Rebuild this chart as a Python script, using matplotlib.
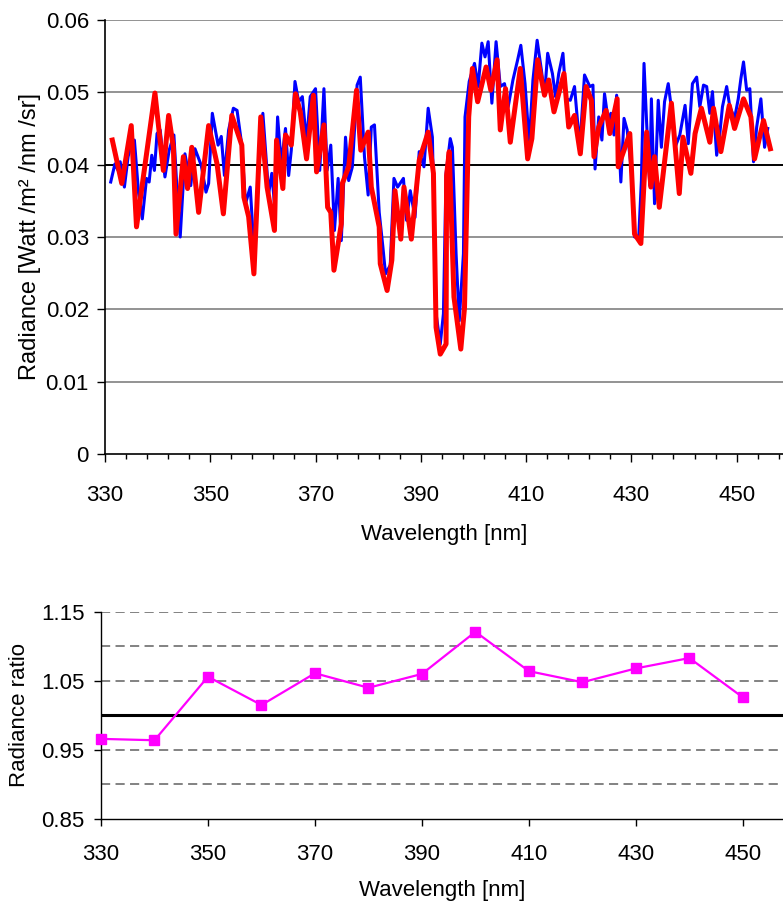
import numpy as np
import matplotlib
matplotlib.use('Agg')
import matplotlib.pyplot as plt
from matplotlib.ticker import FixedLocator

plt.rcParams['font.family'] = ['Liberation Sans', 'DejaVu Sans']

# High resolution spectrum (blue)
blue_wl = [331.1, 331.9, 332.5, 332.9, 333.7, 334.4, 335.0, 335.6, 336.4, 337.1,
           337.9, 338.4, 338.9, 339.4, 339.9, 340.5, 341.4, 342.2, 343.1, 343.7,
           344.3, 345.2, 346.3, 347.1, 348.3, 349.2, 349.7, 350.4, 351.5, 352.1,
           352.7, 353.5, 354.4, 355.1, 356.0, 356.7, 357.6, 358.4, 359.2, 360.0,
           361.1, 361.7, 362.2, 362.8, 363.5, 364.3, 364.9, 365.4, 366.1, 366.8,
           367.5, 368.3, 369.0, 370.0, 370.8, 371.6, 372.2, 372.9, 373.6, 374.3,
           374.9, 375.7, 376.3, 377.0, 377.9, 378.5, 379.3, 380.0, 380.6, 381.2,
           382.1, 382.8, 383.3, 384.2, 384.9, 385.6, 386.7, 387.3, 388.0, 388.9,
           389.7, 390.6, 391.4, 392.2, 392.9, 393.7, 394.3, 394.8, 395.6, 396.0,
           396.7, 397.3, 398.1, 398.4, 399.2, 400.2, 400.9, 401.6, 402.2, 402.8,
           403.5, 404.3, 405.1, 405.9, 406.6, 407.5, 408.4, 409.0, 409.8, 410.6,
           411.3, 412.1, 412.9, 413.5, 414.1, 415.0, 415.6, 416.2, 417.0, 417.6,
           418.4, 419.2, 420.2, 421.1, 422.1, 422.7, 423.1, 423.8, 424.4, 424.9,
           425.6, 426.1, 426.7, 427.2, 428.0, 428.6, 429.2, 430.0, 430.6, 431.4,
           431.9, 432.4, 432.9, 433.5, 433.8, 434.4, 435.1, 435.7, 436.3, 437.0,
           437.6, 438.3, 439.2, 440.2, 440.8, 441.6, 442.4, 443.0, 443.7, 444.3,
           444.9, 445.4, 446.2, 446.8, 447.3, 448.1, 448.7, 449.6, 450.3, 450.8,
           451.3, 451.9, 452.5, 453.2, 453.8, 454.6, 455.3, 455.9]
blue_rad = [0.0376, 0.0401, 0.0392, 0.0404, 0.0369, 0.0411, 0.0429, 0.0434, 0.0360, 0.0325,
            0.0381, 0.0376, 0.0413, 0.0392, 0.0443, 0.0448, 0.0383, 0.0420, 0.0441, 0.0364,
            0.0300, 0.0415, 0.0371, 0.0422, 0.0399, 0.0362, 0.0374, 0.0471, 0.0427, 0.0439,
            0.0385, 0.0448, 0.0478, 0.0475, 0.0427, 0.0346, 0.0369, 0.0272, 0.0392, 0.0471,
            0.0360, 0.0388, 0.0346, 0.0466, 0.0401, 0.0450, 0.0385, 0.0420, 0.0515, 0.0487,
            0.0494, 0.0431, 0.0494, 0.0505, 0.0392, 0.0505, 0.0392, 0.0427, 0.0309, 0.0381,
            0.0295, 0.0438, 0.0378, 0.0397, 0.0510, 0.0521, 0.0411, 0.0358, 0.0452, 0.0455,
            0.0334, 0.0286, 0.0249, 0.0261, 0.0381, 0.0369, 0.0381, 0.0323, 0.0364, 0.0327,
            0.0418, 0.0397, 0.0478, 0.0438, 0.0194, 0.0152, 0.0194, 0.0388, 0.0436, 0.0424,
            0.0277, 0.0184, 0.0277, 0.0466, 0.0515, 0.0540, 0.0508, 0.0568, 0.0549, 0.0570,
            0.0485, 0.0570, 0.0508, 0.0512, 0.0480, 0.0517, 0.0545, 0.0565, 0.0512, 0.0429,
            0.0517, 0.0572, 0.0531, 0.0496, 0.0554, 0.0526, 0.0494, 0.0526, 0.0554, 0.0491,
            0.0489, 0.0508, 0.0424, 0.0524, 0.0508, 0.0510, 0.0394, 0.0466, 0.0434, 0.0498,
            0.0461, 0.0471, 0.0441, 0.0496, 0.0376, 0.0464, 0.0448, 0.0392, 0.0300, 0.0300,
            0.0378, 0.0540, 0.0457, 0.0371, 0.0491, 0.0346, 0.0489, 0.0424, 0.0487, 0.0512,
            0.0478, 0.0424, 0.0441, 0.0482, 0.0429, 0.0512, 0.0521, 0.0480, 0.0510, 0.0508,
            0.0471, 0.0501, 0.0413, 0.0443, 0.0480, 0.0508, 0.0480, 0.0464, 0.0491, 0.0519,
            0.0542, 0.0503, 0.0505, 0.0404, 0.0452, 0.0491, 0.0424, 0.0450]

# Low resolution spectrum (red)
red_wl = [331.4, 333.2, 335.0, 336.0, 337.3, 339.5, 341.1, 342.1, 343.0, 343.5,
          344.9, 345.7, 346.5, 347.8, 349.7, 351.3, 352.5, 354.1, 356.0, 356.4,
          357.3, 358.3, 359.6, 360.8, 362.2, 362.6, 363.8, 364.3, 365.4, 366.2,
          367.1, 368.3, 369.6, 370.2, 371.6, 372.3, 372.9, 373.5, 374.9, 375.1,
          376.3, 377.8, 378.6, 380.0, 380.6, 382.1, 382.3, 383.6, 384.5, 385.1,
          386.2, 386.8, 388.2, 389.7, 391.4, 392.4, 392.9, 393.7, 394.8, 394.9,
          395.4, 396.3, 397.6, 398.3, 399.1, 399.8, 400.8, 402.4, 403.3, 404.5,
          405.1, 406.1, 407.0, 408.9, 410.3, 411.1, 412.2, 413.5, 414.3, 415.3,
          417.2, 418.1, 419.2, 420.3, 421.4, 422.4, 422.9, 423.8, 425.2, 425.9,
          427.3, 427.5, 429.7, 430.6, 431.8, 432.9, 433.7, 434.4, 435.3, 437.6,
          439.1, 439.8, 441.3, 442.1, 443.3, 444.9, 445.6, 447.0, 448.6, 449.6,
          451.3, 452.7, 453.4, 455.1, 456.4]
red_rad = [0.0434, 0.0374, 0.0454, 0.0314, 0.0383, 0.0499, 0.0392, 0.0468, 0.0424, 0.0304,
           0.0411, 0.0367, 0.0424, 0.0334, 0.0454, 0.0401, 0.0332, 0.0468, 0.0427, 0.0355,
           0.0328, 0.0249, 0.0466, 0.0369, 0.0309, 0.0434, 0.0367, 0.0441, 0.0427, 0.0498,
           0.0473, 0.0408, 0.0496, 0.0390, 0.0455, 0.0341, 0.0334, 0.0254, 0.0318, 0.0374,
           0.0397, 0.0503, 0.0420, 0.0445, 0.0369, 0.0314, 0.0263, 0.0226, 0.0268, 0.0364,
           0.0297, 0.0369, 0.0297, 0.0406, 0.0445, 0.0388, 0.0175, 0.0138, 0.0152, 0.0385,
           0.0418, 0.0217, 0.0145, 0.0202, 0.0466, 0.0533, 0.0487, 0.0535, 0.0503, 0.0545,
           0.0448, 0.0505, 0.0431, 0.0533, 0.0408, 0.0436, 0.0545, 0.0496, 0.0517, 0.0473,
           0.0526, 0.0452, 0.0468, 0.0415, 0.0508, 0.0489, 0.0411, 0.0452, 0.0475, 0.0443,
           0.0491, 0.0397, 0.0443, 0.0304, 0.0291, 0.0445, 0.0369, 0.0411, 0.0341, 0.0485,
           0.0360, 0.0438, 0.0388, 0.0443, 0.0478, 0.0431, 0.0478, 0.0418, 0.0482, 0.0450,
           0.0491, 0.0466, 0.0408, 0.0461, 0.0422]

# Ratio of the two, every 10 nm
ratio_wl = [330, 340, 350, 360, 370, 380, 390, 400, 410, 420, 430, 440, 450]
ratio = [0.966, 0.964, 1.056, 1.015, 1.061, 1.040, 1.060, 1.121, 1.064, 1.048,
         1.068, 1.083, 1.026]

FS = 16
fig = plt.figure(figsize=(7.83, 9.09), dpi=100)

# ---- top panel: spectra ----
ax1 = fig.add_axes([0.134, 0.5006, 0.866, 0.4774])
for v in [0.01, 0.02, 0.03, 0.05, 0.06]:
    ax1.axhline(v, color='#808080', lw=1.2, zorder=1)
ax1.axhline(0.04, color='black', lw=1.4, zorder=1)
ax1.plot(blue_wl, blue_rad, color='#0000FF', lw=2.2, solid_joinstyle='round', zorder=2)
ax1.plot(red_wl, red_rad, color='#FF0000', lw=3.6, solid_joinstyle='round', zorder=3)
ax1.set_xlim(330, 458.8)
ax1.set_ylim(0, 0.06)
ax1.set_yticks([0, 0.01, 0.02, 0.03, 0.04, 0.05, 0.06])
ax1.set_yticklabels(['0', '0.01', '0.02', '0.03', '0.04', '0.05', '0.06'])
ax1.xaxis.set_major_locator(FixedLocator(np.arange(330, 460, 20)))
ax1.xaxis.set_minor_locator(FixedLocator(np.arange(330, 460, 4)))
ax1.tick_params(axis='x', which='major', length=5.5, width=1, labelsize=FS, pad=17)
ax1.tick_params(axis='x', which='minor', length=3.8, width=1)
ax1.tick_params(axis='y', length=5.5, width=1, labelsize=FS, pad=6)
for s in ['top', 'right']:
    ax1.spines[s].set_visible(False)
ax1.spines['left'].set_linewidth(1.2)
ax1.spines['bottom'].set_linewidth(1.2)
ax1.set_xlabel('Wavelength [nm]', fontsize=FS, labelpad=13)
ax1.set_ylabel('Radiance [Watt /m² /nm /sr]', fontsize=17, labelpad=3)

# ---- bottom panel: ratio ----
ax2 = fig.add_axes([0.129, 0.099, 0.871, 0.228])
for v in [0.90, 0.95, 1.05, 1.10, 1.15]:
    ax2.axhline(v, color='#606060', lw=1.1, dashes=(6, 3.5), zorder=1)
ax2.axhline(1.0, color='black', lw=2.2, zorder=1)
ax2.plot(ratio_wl, ratio, color='#FF00FF', lw=1.6, marker='s', markersize=6.5,
         zorder=3, clip_on=False)
ax2.set_xlim(330, 457.5)
ax2.set_ylim(0.85, 1.15)
ax2.set_yticks([0.85, 0.95, 1.05, 1.15])
ax2.set_yticklabels(['0.85', '0.95', '1.05', '1.15'])
ax2.set_xticks(np.arange(330, 460, 20))
ax2.tick_params(axis='x', length=5, width=1, labelsize=FS, pad=13)
ax2.tick_params(axis='y', length=5, width=1, labelsize=FS, pad=7)
for s in ['top', 'right']:
    ax2.spines[s].set_visible(False)
ax2.spines['left'].set_linewidth(1.0)
ax2.spines['bottom'].set_linewidth(1.0)
ax2.set_xlabel('Wavelength [nm]', fontsize=FS, labelpad=11)
ax2.set_ylabel('Radiance ratio', fontsize=FS, labelpad=8)

fig.savefig('out.png', dpi=100)
